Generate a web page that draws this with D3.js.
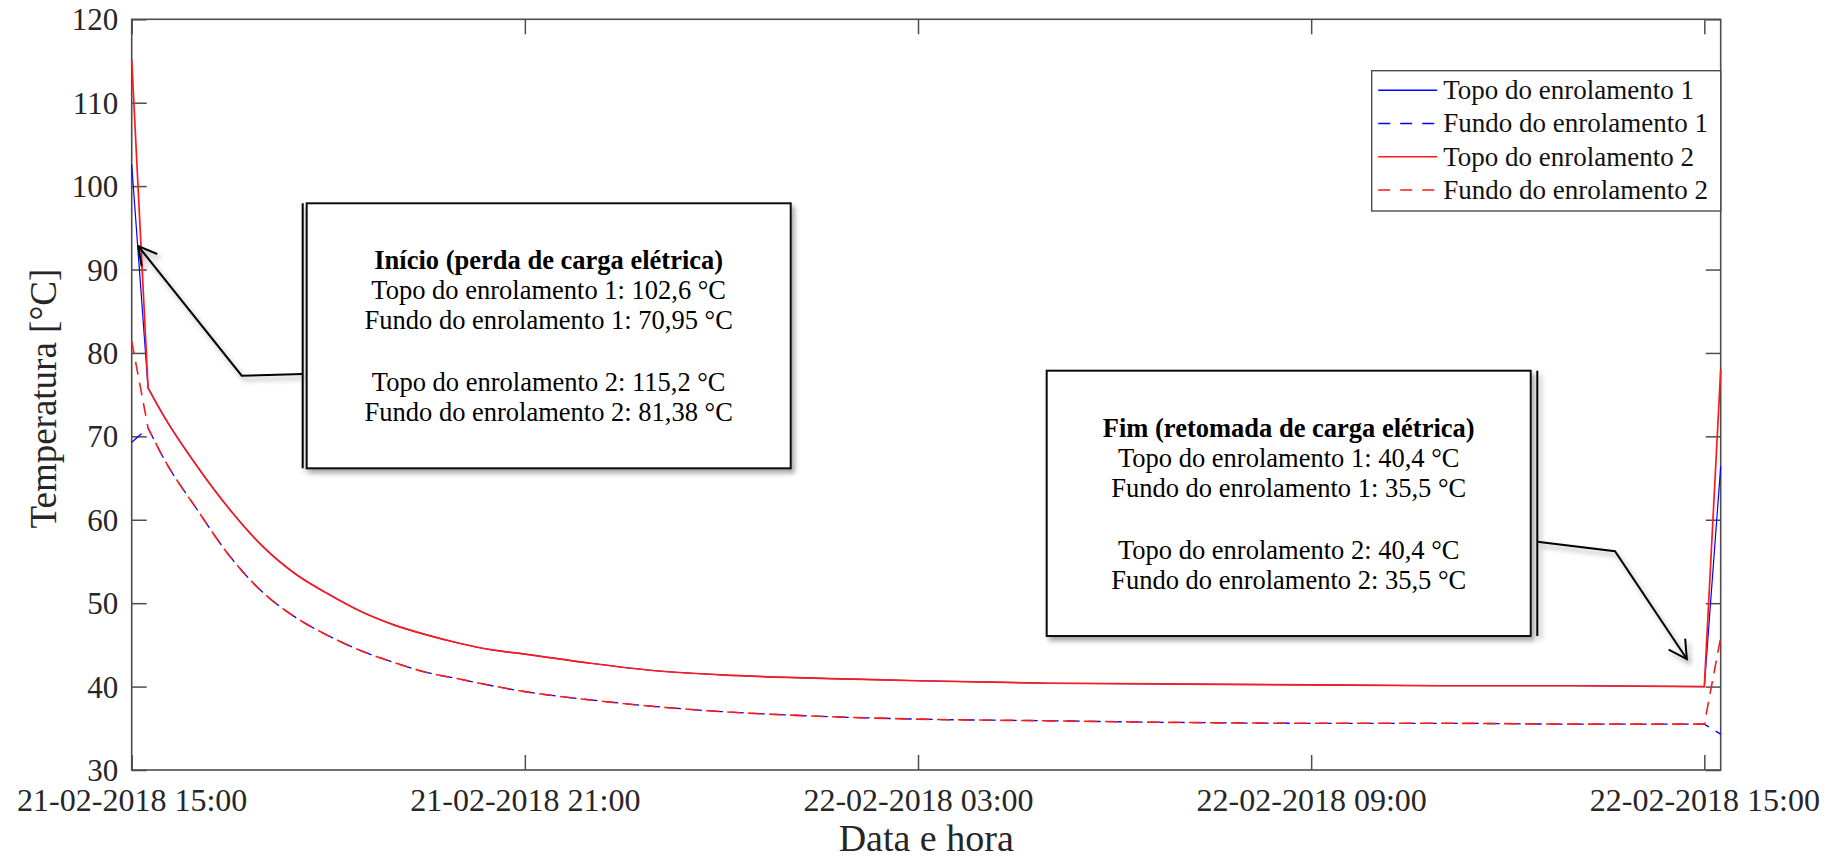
<!DOCTYPE html>
<html>
<head>
<meta charset="utf-8">
<script src="https://cdn.jsdelivr.net/npm/d3@7"></script>
<style>
  html, body { margin: 0; padding: 0; background: #ffffff; }
  svg { display: block; }
  text { font-family: "Liberation Serif", "Times New Roman", serif; }
</style>
</head>
<body>
<script>
// ---------------- data ----------------
const times = [
  "2018-02-21 15:00", "2018-02-21 15:15", "2018-02-21 15:30", "2018-02-21 16:00",
  "2018-02-21 16:30", "2018-02-21 17:00", "2018-02-21 17:30", "2018-02-21 18:00",
  "2018-02-21 18:30", "2018-02-21 19:00", "2018-02-21 19:30", "2018-02-21 20:00",
  "2018-02-21 20:30", "2018-02-21 21:00", "2018-02-21 22:00", "2018-02-21 23:00",
  "2018-02-22 00:00", "2018-02-22 01:00", "2018-02-22 02:00", "2018-02-22 03:00",
  "2018-02-22 05:00", "2018-02-22 07:00", "2018-02-22 09:00", "2018-02-22 11:00",
  "2018-02-22 13:00", "2018-02-22 15:00", "2018-02-22 15:15"
];
const topo1 = [102.6, 75.8, 72.3, 66.4, 61.2, 56.8, 53.5, 51.1, 49.0, 47.4, 46.2, 45.2, 44.4, 43.9,
  42.8, 41.9, 41.4, 41.1, 40.9, 40.7, 40.4, 40.3, 40.2, 40.1, 40.1, 40.0, 66.4];
const fundo1 = [69.3, 71.0, 67.2, 61.2, 55.6, 51.3, 48.3, 46.1, 44.3, 42.9, 41.7, 40.9, 40.1, 39.4,
  38.4, 37.6, 37.0, 36.6, 36.3, 36.1, 35.9, 35.7, 35.6, 35.6, 35.5, 35.5, 34.3];
const topo2 = [115.2, 75.8, 72.3, 66.4, 61.2, 56.8, 53.5, 51.1, 49.0, 47.4, 46.2, 45.2, 44.4, 43.9,
  42.8, 41.9, 41.4, 41.1, 40.9, 40.7, 40.4, 40.3, 40.2, 40.1, 40.1, 40.0, 78.0];
const fundo2 = [81.4, 71.0, 67.2, 61.2, 55.6, 51.3, 48.3, 46.1, 44.3, 42.9, 41.7, 40.9, 40.1, 39.4,
  38.4, 37.6, 37.0, 36.6, 36.3, 36.1, 35.9, 35.7, 35.6, 35.6, 35.5, 35.5, 45.9];

const seriesNames = ["Topo do enrolamento 1", "Fundo do enrolamento 1", "Topo do enrolamento 2", "Fundo do enrolamento 2"];
const seriesColors = ["#0000ff", "#0000ff", "#ff1a1a", "#ff1a1a"];
const seriesDashed = [false, true, false, true];

const xDomain = ["2018-02-21 15:00", "2018-02-22 15:15"];
const xTickLabels = ["2018-02-21 15:00", "2018-02-21 21:00", "2018-02-22 03:00", "2018-02-22 09:00", "2018-02-22 15:00"];
const yDomain = [30, 120];
const yTicks = [30, 40, 50, 60, 70, 80, 90, 100, 110, 120];

const xLabel = "Data e hora";
const yLabel = "Temperatura [°C]";

const note1Lines = ["Início (perda de carga elétrica)", "Topo do enrolamento 1: 102,6 °C", "Fundo do enrolamento 1: 70,95 °C", "",
  "Topo do enrolamento 2: 115,2 °C", "Fundo do enrolamento 2: 81,38 °C"];
const note2Lines = ["Fim (retomada de carga elétrica)", "Topo do enrolamento 1: 40,4 °C", "Fundo do enrolamento 1: 35,5 °C", "",
  "Topo do enrolamento 2: 40,4 °C", "Fundo do enrolamento 2: 35,5 °C"];
const note1Target = { time: "2018-02-21 15:06", value: 92.8 };
const note2Target = { time: "2018-02-22 14:44", value: 43.3 };

// ---------------- layout ----------------
const W = 1847, H = 860;
const M = { left: 131.7, top: 19.3, right: W - 1720.7, bottom: H - 770 };
const parse = d3.timeParse("%Y-%m-%d %H:%M");
const fmt = d3.timeFormat("%d-%m-%Y %H:%M");

const svg = d3.select("body").append("svg").attr("width", W).attr("height", H);

const defs = svg.append("defs");
const f = defs.append("filter").attr("id", "shadow").attr("x", "-20%").attr("y", "-20%").attr("width", "140%").attr("height", "140%");
f.append("feDropShadow").attr("dx", 3).attr("dy", 4).attr("stdDeviation", 2.5).attr("flood-color", "#000").attr("flood-opacity", 0.35);

const x = d3.scaleTime().domain(xDomain.map(parse)).range([M.left, W - M.right]);
const y = d3.scaleLinear().domain(yDomain).range([H - M.bottom, M.top]);

const axisColor = "#4d4d4d";
const tickTextColor = "#262626";

// axes (ticks inward, box)
const gx = svg.append("g").attr("transform", `translate(0,${H - M.bottom})`)
  .call(d3.axisBottom(x).tickValues(xTickLabels.map(parse)).tickFormat(fmt).tickSize(-15).tickPadding(18));
const gxTop = svg.append("g").attr("transform", `translate(0,${M.top})`)
  .call(d3.axisTop(x).tickValues(xTickLabels.map(parse)).tickFormat("").tickSize(-15));
const gy = svg.append("g").attr("transform", `translate(${M.left},0)`)
  .call(d3.axisLeft(y).tickValues(yTicks).tickFormat(d3.format("d")).tickSize(-15).tickPadding(13.5));
const gyR = svg.append("g").attr("transform", `translate(${W - M.right},0)`)
  .call(d3.axisRight(y).tickValues(yTicks).tickFormat("").tickSize(-15));

[gx, gxTop, gy, gyR].forEach(g => {
  g.select(".domain").remove();
  g.selectAll(".tick line").attr("stroke", axisColor).attr("stroke-width", 1.5);
  g.selectAll(".tick text").attr("fill", tickTextColor)
    .style("font-family", '"Liberation Serif", serif');
});
gx.selectAll(".tick text").style("font-size", "32px");
gy.selectAll(".tick text").style("font-size", "31px").attr("dy", "0.34em");

svg.append("rect")
  .attr("x", M.left).attr("y", M.top)
  .attr("width", W - M.left - M.right).attr("height", H - M.top - M.bottom)
  .attr("fill", "none").attr("stroke", axisColor).attr("stroke-width", 1.6);

// axis labels
svg.append("text")
  .attr("x", (M.left + W - M.right) / 2).attr("y", 851)
  .attr("text-anchor", "middle").attr("fill", tickTextColor)
  .style("font-size", "38px").text(xLabel);
svg.append("text")
  .attr("transform", `translate(56,${(M.top + H - M.bottom) / 2 + 4}) rotate(-90)`)
  .attr("text-anchor", "middle").attr("fill", tickTextColor)
  .style("font-size", "37px").text(yLabel);

// lines: straight first and last step, smooth decay between them
const allSeries = [topo1, fundo1, topo2, fundo2];
const seriesWidths = [1.2, 1.3, 1.7, 1.6];
const smooth = d3.line().x(d => x(d.t)).y(d => y(d.v)).curve(d3.curveMonotoneX);
function seriesPath(pts) {
  const n = pts.length;
  const p0 = pts[0], pl = pts[n - 1];
  const mid = smooth(pts.slice(1, n - 1)).replace(/^M/, "L");
  return `M${x(p0.t)},${y(p0.v)}` + mid + `L${x(pl.t)},${y(pl.v)}`;
}
allSeries.forEach((vals, i) => {
  const pts = vals.map((v, j) => ({ t: parse(times[j]), v }));
  svg.append("path")
    .attr("d", seriesPath(pts))
    .attr("fill", "none")
    .attr("stroke", seriesColors[i])
    .attr("stroke-width", seriesWidths[i])
    .attr("stroke-dasharray", seriesDashed[i] ? "13,8" : null);
});

// legend
const lg = svg.append("g");
const lgX = 1371.7, lgY = 70.7, lgW = W - M.right - 1371.7, lgH = 140.3;
lg.append("rect").attr("x", lgX).attr("y", lgY).attr("width", lgW).attr("height", lgH)
  .attr("fill", "#fff").attr("stroke", axisColor).attr("stroke-width", 1.4);
seriesNames.forEach((name, i) => {
  const yy = lgY + 19.5 + i * 33.3;
  lg.append("line").attr("x1", lgX + 6.5).attr("x2", lgX + 65.5).attr("y1", yy).attr("y2", yy)
    .attr("stroke", seriesColors[i]).attr("stroke-width", 1.5)
    .attr("stroke-dasharray", seriesDashed[i] ? "12,10" : null);
  lg.append("text").attr("x", lgX + 71.5).attr("y", yy).attr("dy", "0.33em")
    .attr("fill", "#111").style("font-size", "27px").text(name);
});

// annotations
function arrowHead(tip, from, len, half) {
  const ang = Math.atan2(from[1] - tip[1], from[0] - tip[0]);
  const a1 = ang + half, a2 = ang - half;
  return [[tip[0] + len * Math.cos(a1), tip[1] + len * Math.sin(a1)], tip,
          [tip[0] + len * Math.cos(a2), tip[1] + len * Math.sin(a2)]];
}
function callout(box, barX, leaderPts, lines) {
  const g = svg.append("g");
  const sh = g.append("g").attr("filter", "url(#shadow)");
  sh.append("path").attr("d", d3.line()(leaderPts)).attr("fill", "none")
    .attr("stroke", "#000").attr("stroke-width", 2);
  const tip = leaderPts[leaderPts.length - 1], prev = leaderPts[leaderPts.length - 2];
  sh.append("path").attr("d", d3.line()(arrowHead(tip, prev, 20.5, 29 * Math.PI / 180)))
    .attr("fill", "none").attr("stroke", "#000").attr("stroke-width", 2);
  sh.append("line").attr("x1", barX).attr("x2", barX).attr("y1", box.y).attr("y2", box.y + box.h)
    .attr("stroke", "#000").attr("stroke-width", 2);
  sh.append("rect").attr("x", box.x).attr("y", box.y).attr("width", box.w).attr("height", box.h)
    .attr("fill", "#fff").attr("stroke", "#111").attr("stroke-width", 2);
  const cx = box.x + box.w / 2;
  const baselines = [66, 96, 126, 156, 188, 218];
  lines.forEach((t, i) => {
    if (!t) return;
    g.append("text").attr("x", cx).attr("y", box.y + baselines[i])
      .attr("text-anchor", "middle").attr("fill", "#000")
      .style("font-size", "26.5px").style("font-weight", i === 0 ? "bold" : "normal").text(t);
  });
}

const tip1 = [x(parse(note1Target.time)), y(note1Target.value)];
callout({ x: 306.7, y: 203.3, w: 484, h: 265 }, 302.7,
  [[302.7, 374], [241.7, 375.7], tip1], note1Lines);

const tip2 = [x(parse(note2Target.time)), y(note2Target.value)];
callout({ x: 1046.7, y: 370.7, w: 484, h: 265.3 }, 1537.3,
  [[1537.3, 541.7], [1615, 551.3], tip2], note2Lines);
</script>
</body>
</html>
